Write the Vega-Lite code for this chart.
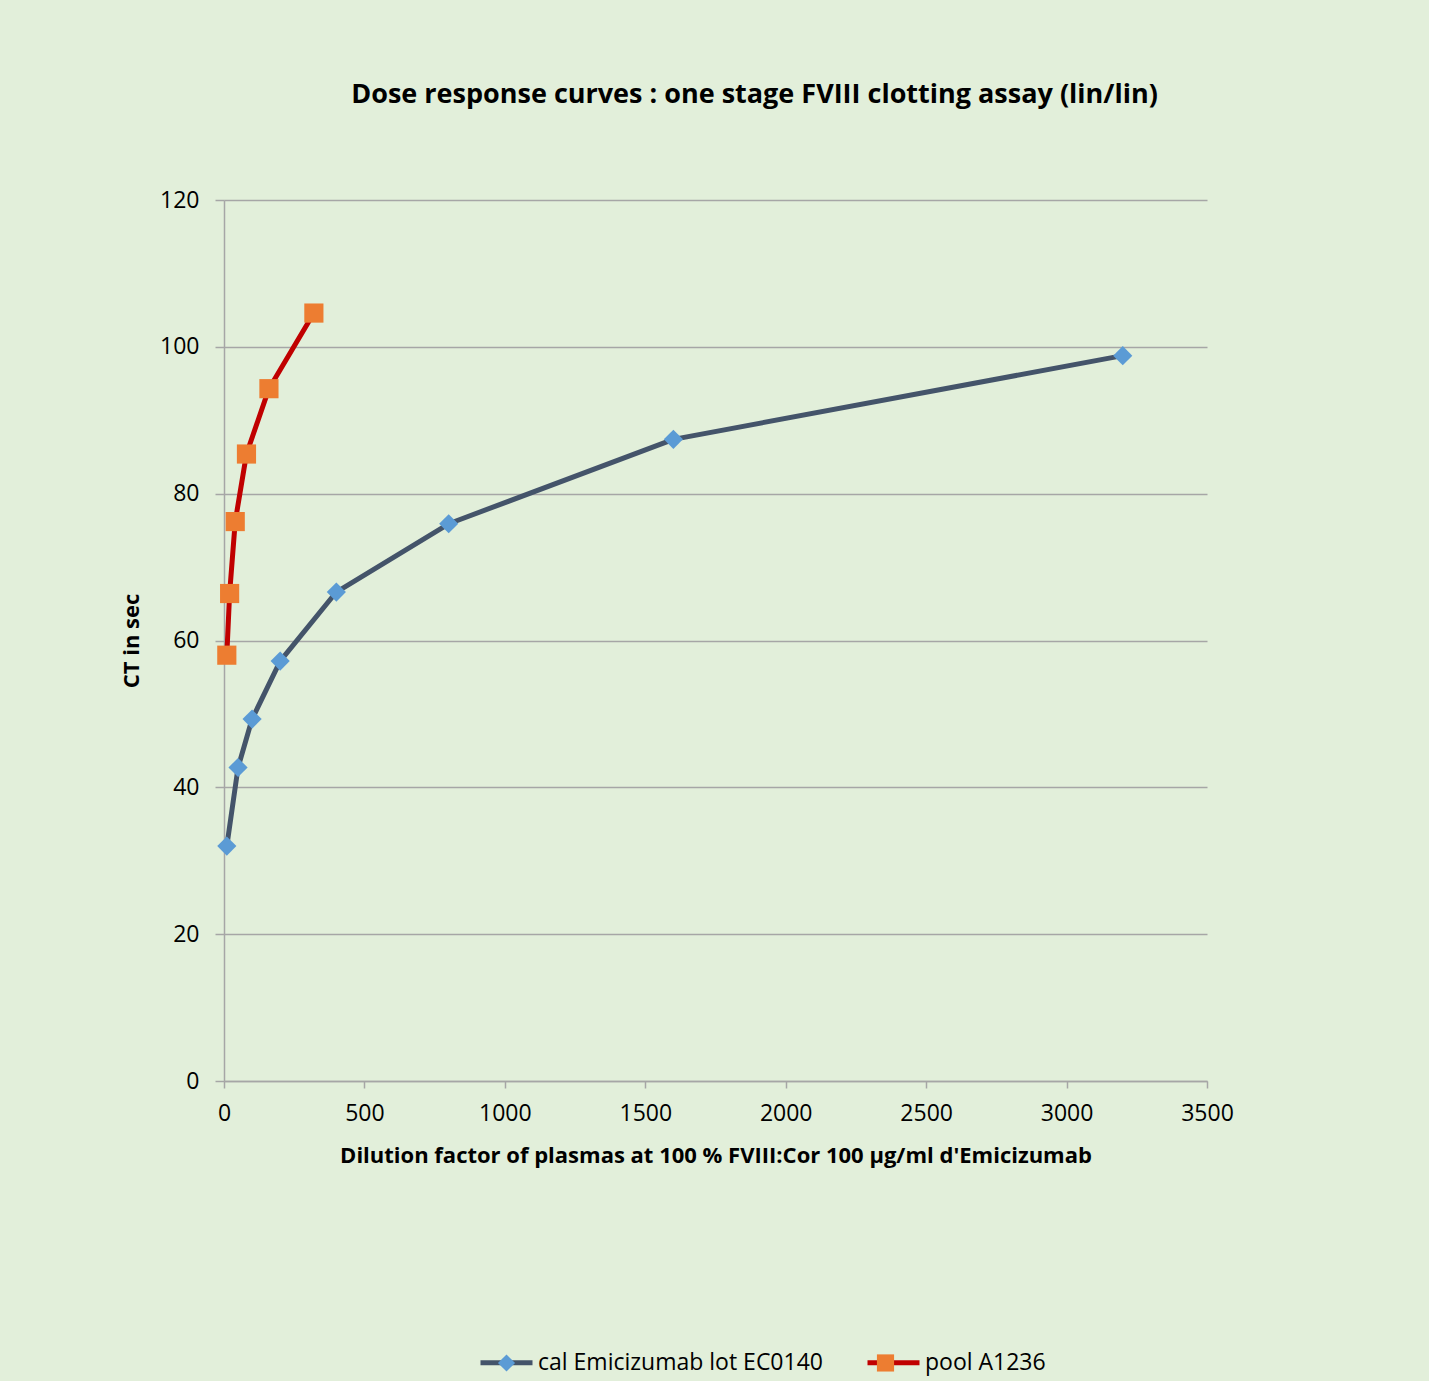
{
  "$schema": "https://vega.github.io/schema/vega-lite/v6.json",
  "width": 983,
  "height": 881,
  "autosize": {"type": "none"},
  "padding": {"left": 224, "top": 200, "right": 222, "bottom": 300},
  "background": "#E2EFDA",
  "config": {
    "view": {"stroke": null},
    "font": "Open Sans",
    "legend": {"padding": 0}
  },
  "title": {
    "text": "Dose response curves : one stage FVIII  clotting assay (lin/lin)",
    "font": "Open Sans",
    "fontSize": 27,
    "fontWeight": "bold",
    "color": "#000000",
    "anchor": "middle",
    "frame": "group",
    "dx": 39,
    "offset": 80
  },
  "resolve": {"legend": {"stroke": "independent"}},
  "data": {
    "values": [
      {"series": "cal Emicizumab lot EC0140", "dilution": 10, "ct": 32.0},
      {"series": "cal Emicizumab lot EC0140", "dilution": 50, "ct": 42.7},
      {"series": "cal Emicizumab lot EC0140", "dilution": 100, "ct": 49.3},
      {"series": "cal Emicizumab lot EC0140", "dilution": 200, "ct": 57.2},
      {"series": "cal Emicizumab lot EC0140", "dilution": 400, "ct": 66.6},
      {"series": "cal Emicizumab lot EC0140", "dilution": 800, "ct": 75.9},
      {"series": "cal Emicizumab lot EC0140", "dilution": 1600, "ct": 87.4},
      {"series": "cal Emicizumab lot EC0140", "dilution": 3200, "ct": 98.8},
      {"series": "pool A1236", "dilution": 10, "ct": 58.0},
      {"series": "pool A1236", "dilution": 20, "ct": 66.4},
      {"series": "pool A1236", "dilution": 40, "ct": 76.2},
      {"series": "pool A1236", "dilution": 80, "ct": 85.4},
      {"series": "pool A1236", "dilution": 160, "ct": 94.3},
      {"series": "pool A1236", "dilution": 320, "ct": 104.6}
    ]
  },
  "encoding": {
    "x": {
      "field": "dilution",
      "type": "quantitative",
      "scale": {"domain": [0, 3500], "nice": false, "zero": true},
      "axis": {
        "title": "Dilution factor of plasmas at 100 % FVIII:Cor 100 µg/ml d'Emicizumab",
        "values": [0, 500, 1000, 1500, 2000, 2500, 3000, 3500],
        "format": "d",
        "labelFlush": false,
        "grid": false,
        "domainColor": "#a6a6a6",
        "domainWidth": 1.5,
        "tickColor": "#a6a6a6",
        "tickWidth": 1.5,
        "tickSize": 7,
        "labelPadding": 14,
        "labelFont": "Open Sans",
        "labelFontSize": 23,
        "labelColor": "#000000",
        "titleFont": "Open Sans",
        "titleFontSize": 22,
        "titleFontWeight": "bold",
        "titleColor": "#000000",
        "titlePadding": 20
      }
    },
    "y": {
      "field": "ct",
      "type": "quantitative",
      "scale": {"domain": [0, 120], "nice": false},
      "axis": {
        "title": "CT in sec",
        "values": [0, 20, 40, 60, 80, 100, 120],
        "labelFlush": false,
        "grid": true,
        "gridColor": "#a6a6a6",
        "gridWidth": 1.5,
        "domainColor": "#a6a6a6",
        "domainWidth": 1.5,
        "tickColor": "#a6a6a6",
        "tickWidth": 1.5,
        "tickSize": 9,
        "labelPadding": 16,
        "labelFont": "Open Sans",
        "labelFontSize": 23,
        "labelColor": "#000000",
        "titleFont": "Open Sans",
        "titleFontSize": 22,
        "titleFontWeight": "bold",
        "titleColor": "#000000",
        "titlePadding": 16
      }
    }
  },
  "layer": [
    {
      "mark": {"type": "line", "strokeWidth": 5, "strokeJoin": "round", "strokeCap": "round"},
      "encoding": {
        "stroke": {
          "field": "series",
          "type": "nominal",
          "scale": {"domain": ["cal Emicizumab lot EC0140", "pool A1236"], "range": ["#44546A", "#C00000"]},
          "legend": {
            "title": null,
            "orient": "none",
            "direction": "horizontal",
            "legendX": 254,
            "legendY": 1134,
            "symbolType": "M-1,0H1",
            "symbolSize": 2704,
            "symbolStrokeWidth": 5,
            "labelFont": "Open Sans",
            "labelFontSize": 23,
            "labelLimit": 600,
            "labelColor": "#000000",
            "labelOffset": 3,
            "columnPadding": 34,
            "zindex": 0
          }
        }
      }
    },
    {
      "mark": {"type": "point", "filled": true, "opacity": 1, "size": 3376, "strokeWidth": 0},
      "encoding": {
        "fill": {
          "field": "series",
          "type": "nominal",
          "scale": {"domain": ["cal Emicizumab lot EC0140", "pool A1236"], "range": ["#5B9BD5", "#ED7D31"]},
          "legend": {
            "title": null,
            "orient": "none",
            "direction": "horizontal",
            "legendX": 254,
            "legendY": 1134,
            "symbolSize": 2704,
            "symbolStrokeWidth": 5,
            "symbolStrokeColor": "transparent",
            "symbolOpacity": 1,
            "labelFont": "Open Sans",
            "labelFontSize": 23,
            "labelLimit": 600,
            "labelColor": "transparent",
            "labelOffset": 3,
            "columnPadding": 34,
            "zindex": 1
          }
        },
        "shape": {
          "field": "series",
          "type": "nominal",
          "scale": {"domain": ["cal Emicizumab lot EC0140", "pool A1236"], "range": ["M0,-0.33L0.33,0L0,0.33L-0.33,0Z", "M-0.33,-0.33H0.33V0.33H-0.33Z"]},
          "legend": {
            "title": null,
            "orient": "none",
            "direction": "horizontal",
            "legendX": 254,
            "legendY": 1134,
            "symbolSize": 2704,
            "symbolStrokeWidth": 5,
            "symbolStrokeColor": "transparent",
            "symbolOpacity": 1,
            "labelFont": "Open Sans",
            "labelFontSize": 23,
            "labelLimit": 600,
            "labelColor": "transparent",
            "labelOffset": 3,
            "columnPadding": 34,
            "zindex": 1
          }
        }
      }
    }
  ]
}
